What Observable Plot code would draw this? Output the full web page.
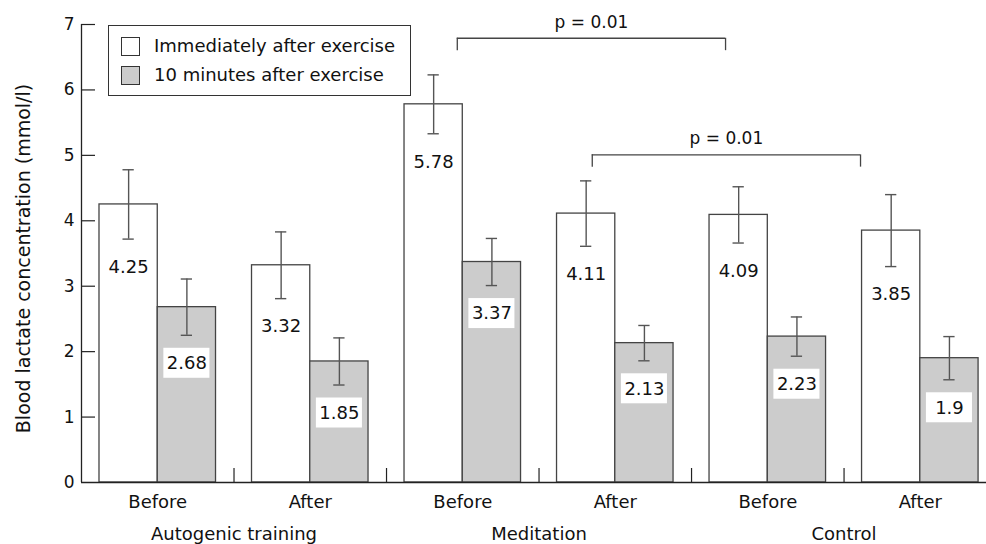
<!DOCTYPE html>
<html>
<head>
<meta charset="utf-8">
<script src="https://cdn.jsdelivr.net/npm/d3@7"></script>
<script src="https://cdn.jsdelivr.net/npm/@observablehq/plot@0.6"></script>
<style>
  body { margin: 0; background: #fff; }
  #wrap { position: relative; width: 986px; height: 544px; font-family: "DejaVu Sans", sans-serif; color: #111; }
  .legend { position: absolute; left: 108px; top: 25px; width: 303px; height: 71px; border: 1px solid #333; box-sizing: border-box; background: #fff; }
  .sw { position: absolute; left: 12px; width: 19px; height: 19px; border: 1px solid #333; box-sizing: border-box; }
  .lt { position: absolute; left: 45px; height: 22px; line-height: 22px; font-size: 18px; white-space: nowrap; }
</style>
</head>
<body>
<div id="wrap"></div>
<script>
// ---- data ----
const conditions = ["Before", "After", "Before", "After", "Before", "After"];
const groups = ["Autogenic training", "Meditation", "Control"];
const seriesNames = ["Immediately after exercise", "10 minutes after exercise"];
const seriesFills = ["#ffffff", "#cccccc"];
const immediate = [4.25, 3.32, 5.78, 4.11, 4.09, 3.85];
const immediateErr = [0.53, 0.51, 0.45, 0.50, 0.43, 0.55];
const tenMin = [2.68, 1.85, 3.37, 2.13, 2.23, 1.9];
const tenMinErr = [0.43, 0.36, 0.36, 0.27, 0.30, 0.33];
const yTicks = [0, 1, 2, 3, 4, 5, 6, 7];
const yTitle = "Blood lactate concentration (mmol/l)";
// significance brackets (x in condition units, y in mmol/l)
const bracketLabels = ["p = 0.01", "p = 0.01"];
const bracketX1 = [2.464, 3.349];
const bracketX2 = [4.223, 5.108];
const bracketY = [6.79, 5.008];
const bracketLegY = [6.60, 4.82];
const bracketTextY = [7.03, 5.26];

// ---- derived tables ----
const rows = conditions.flatMap((c, i) => [
  {i, s: 0, value: immediate[i], err: immediateErr[i]},
  {i, s: 1, value: tenMin[i], err: tenMinErr[i]}
]);
const barW = 0.382, gap = 0.118;
const bx1 = d => d.i + gap + d.s * barW;
const bx2 = d => d.i + gap + (d.s + 1) * barW;
const bxc = d => d.i + gap + (d.s + 0.5) * barW;
const brackets = bracketLabels.map((t, k) => ({t, x1: bracketX1[k], x2: bracketX2[k], y: bracketY[k], yl: bracketLegY[k], yt: bracketTextY[k]}));
const legs = brackets.flatMap(b => [{x: b.x1, y1: b.yl, y2: b.y}, {x: b.x2, y1: b.yl, y2: b.y}]);
const xMax = 5.934;
const condIdx = conditions.map((c, i) => i);

const chart = Plot.plot({
  width: 986,
  height: 544,
  marginLeft: 81,
  marginRight: 0,
  marginTop: 24,
  marginBottom: 62,
  x: {domain: [0, xMax], axis: null},
  y: {domain: [0, 7], axis: null},
  color: {type: "identity"},
  style: {fontFamily: "DejaVu Sans", fontSize: "18px", background: "white", color: "#111", overflow: "visible"},
  marks: [
    Plot.rect(rows, {x1: bx1, x2: bx2, y1: () => 0, y2: "value", fill: d => seriesFills[d.s], stroke: "#444", strokeWidth: 1.3}),
    Plot.ruleX(rows, {x: bxc, y1: d => d.value - d.err, y2: d => d.value + d.err, stroke: "#555", strokeWidth: 1.4}),
    Plot.ruleY(rows, {y: d => d.value + d.err, x1: d => bxc(d) - 0.037, x2: d => bxc(d) + 0.037, stroke: "#555", strokeWidth: 1.4}),
    Plot.ruleY(rows, {y: d => d.value - d.err, x1: d => bxc(d) - 0.037, x2: d => bxc(d) + 0.037, stroke: "#555", strokeWidth: 1.4}),
    Plot.rect(rows.filter(d => d.s === 1), {x1: d => bxc(d) - 0.151, x2: d => bxc(d) + 0.151, y1: d => d.value - d.err, y2: d => d.value - d.err, insetTop: -15, insetBottom: -15, dy: 28, fill: "#ffffff"}),
    Plot.text(rows, {x: bxc, y: d => d.value - d.err, dy: 28, text: d => String(d.value), fontSize: 18, fill: "#111"}),
    // axes
    Plot.ruleX([0], {y1: 0, y2: 7, stroke: "#222", strokeWidth: 1.3}),
    Plot.ruleY([0], {x1: 0, x2: xMax, stroke: "#222", strokeWidth: 1.3}),
    Plot.ruleY(yTicks.slice(1), {y: d => d, x1: 0, x2: 0.092, stroke: "#222", strokeWidth: 1.2}),
    Plot.ruleX(condIdx.slice(1), {x: d => d, y1: 0, y2: 0.214, stroke: "#222", strokeWidth: 1.2}),
    Plot.text(yTicks, {x: 0, y: d => d, dx: -7, textAnchor: "end", text: d => String(d), fontSize: 17, fill: "#111"}),
    Plot.text(conditions, {x: (d, i) => i + 0.5, y: 0, dy: 20, text: d => d, fontSize: 18, fill: "#111"}),
    Plot.text(groups, {x: (d, i) => 2 * i + 1, y: 0, dy: 52, text: d => d, fontSize: 18, fill: "#111"}),
    Plot.text([yTitle], {frameAnchor: "left", textAnchor: "middle", dx: -58, dy: 5, rotate: -90, text: d => d, fontSize: 19, fill: "#111"}),
    // brackets
    Plot.ruleY(brackets, {y: "y", x1: "x1", x2: "x2", stroke: "#444", strokeWidth: 1.3}),
    Plot.ruleX(legs, {x: "x", y1: "y1", y2: "y2", stroke: "#444", strokeWidth: 1.3}),
    Plot.text(brackets, {x: d => (d.x1 + d.x2) / 2, y: "yt", text: "t", fontSize: 17, fill: "#111"})
  ]
});

const wrap = document.getElementById("wrap");
wrap.appendChild(chart);

// legend (inside the plot area, top-left)
const legend = document.createElement("div");
legend.className = "legend";
seriesNames.forEach((name, k) => {
  const sw = document.createElement("div");
  sw.className = "sw";
  sw.style.top = (11 + k * 29) + "px";
  sw.style.background = seriesFills[k];
  legend.appendChild(sw);
  const t = document.createElement("div");
  t.className = "lt";
  t.style.top = (9 + k * 29) + "px";
  t.textContent = name;
  legend.appendChild(t);
});
wrap.appendChild(legend);
</script>
</body>
</html>
